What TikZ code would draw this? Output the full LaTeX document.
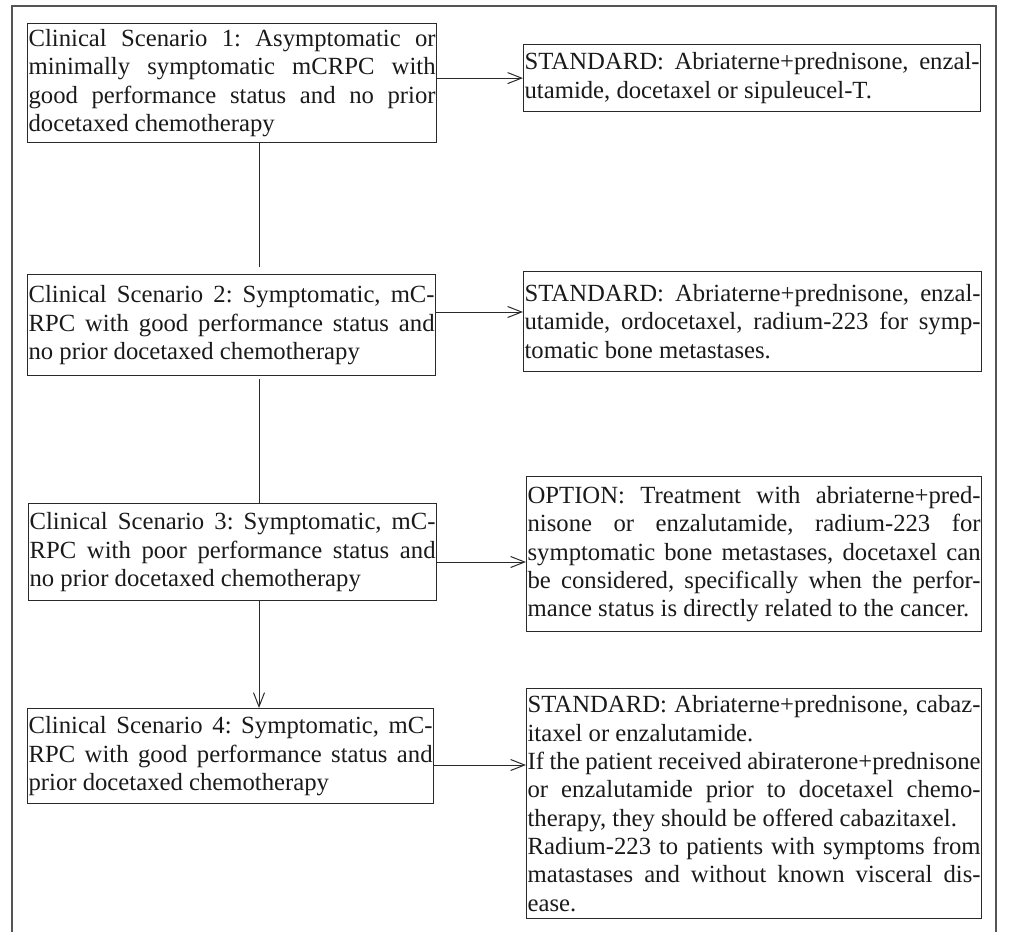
\documentclass[tikz,border=0pt]{standalone}
\usepackage{fontspec}
\setmainfont{Liberation Serif}
\usetikzlibrary{arrows.meta}
\definecolor{boxc}{HTML}{2A2A2A}
\definecolor{framec}{HTML}{555555}
\definecolor{txtc}{HTML}{1A1A1A}
\newcommand\jl[1]{\makebox[\hsize][s]{\spaceskip=0pt\xspaceskip=0pt #1}}
\newcommand\nl[1]{\mbox{\spaceskip=0pt\xspaceskip=0pt #1}}
\tikzset{
  box/.style={draw=boxc, line width=1.2pt, inner xsep=1pt, inner ysep=0pt,
    anchor=north west, align=left, text=txtc,
    font=\fontsize{24.7}{28.3}\selectfont\frenchspacing},
  arr/.style={draw=boxc, line width=1pt, -{Straight Barb[length=14pt,width=11pt]}},
  conn/.style={draw=boxc, line width=1pt}
}
\begin{document}
\begin{tikzpicture}[x=1pt,y=-1pt]
\useasboundingbox (0,0) rectangle (1013,932);
\draw[framec, line width=1.5pt] (12,933) -- (12,6) -- (996,6) -- (996,933);

\node[box, text width=407pt, minimum height=119pt] (b1) at (27,23)
 {\jl{Clinical Scenario 1: Asymptomatic or}\\
  \jl{minimally symptomatic mCRPC with}\\
  \jl{good performance status and no prior}\\
  \nl{docetaxed chemotherapy}};
\node[box, text width=455pt, minimum height=67pt] (r1) at (523,44)
 {\jl{STANDARD: Abriaterne+prednisone, enzal-}\\
  \nl{utamide, docetaxel or sipuleucel-T.}};

\node[box, text width=406pt, minimum height=101pt] (b2) at (27,274)
 {\jl{Clinical Scenario 2: Symptomatic, mC-}\\
  \jl{RPC with good performance status and}\\
  \nl{no prior docetaxed chemotherapy}};
\node[box, text width=456pt, minimum height=100pt] (r2) at (523,271)
 {\jl{STANDARD: Abriaterne+prednisone, enzal-}\\
  \jl{utamide, ordocetaxel, radium-223 for symp-}\\
  \nl{tomatic bone metastases.}};

\node[box, text width=406pt, minimum height=97pt] (b3) at (28,503)
 {\jl{Clinical Scenario 3: Symptomatic, mC-}\\
  \jl{RPC with poor performance status and}\\
  \nl{no prior docetaxed chemotherapy}};
\node[box, text width=453pt, minimum height=155pt] (r3) at (526,476)
 {\jl{OPTION: Treatment with abriaterne+pred-}\\
  \jl{nisone or enzalutamide, radium-223 for}\\
  \jl{symptomatic bone metastases, docetaxel can}\\
  \jl{be considered, specifically when the perfor-}\\
  \nl{mance status is directly related to the cancer.}};

\node[box, text width=404pt, minimum height=95pt] (b4) at (27,708)
 {\jl{Clinical Scenario 4: Symptomatic, mC-}\\
  \jl{RPC with good performance status and}\\
  \nl{prior docetaxed chemotherapy}};
\node[box, text width=453pt, minimum height=230pt] (r4) at (526,688)
 {\jl{STANDARD: Abriaterne+prednisone, cabaz-}\\
  \nl{itaxel or enzalutamide.}\\
  \jl{If the patient received abiraterone+prednisone}\\
  \jl{or enzalutamide prior to docetaxel chemo-}\\
  \nl{therapy, they should be offered cabazitaxel.}\\
  \jl{Radium-223 to patients with symptoms from}\\
  \jl{matastases and without known visceral dis-}\\
  \nl{ease.}};

\coordinate (c1) at (259,267);
\draw[conn] (b1.south -| c1) -- (c1);
\draw[conn, shorten <=3pt] (b2.south -| c1) -- (b3.north -| c1);
\draw[arr] (b3.south -| c1) -- (b4.north -| c1);

\draw[arr] (b1.east |- r1.west) -- (r1.west);
\draw[arr] (b2.east |- 0,312) -- (r2.west |- 0,312);
\draw[arr] (b3.east |- 0,562) -- (r3.west |- 0,562);
\draw[arr] (b4.east |- 0,765) -- (r4.west |- 0,765);
\end{tikzpicture}
\end{document}
